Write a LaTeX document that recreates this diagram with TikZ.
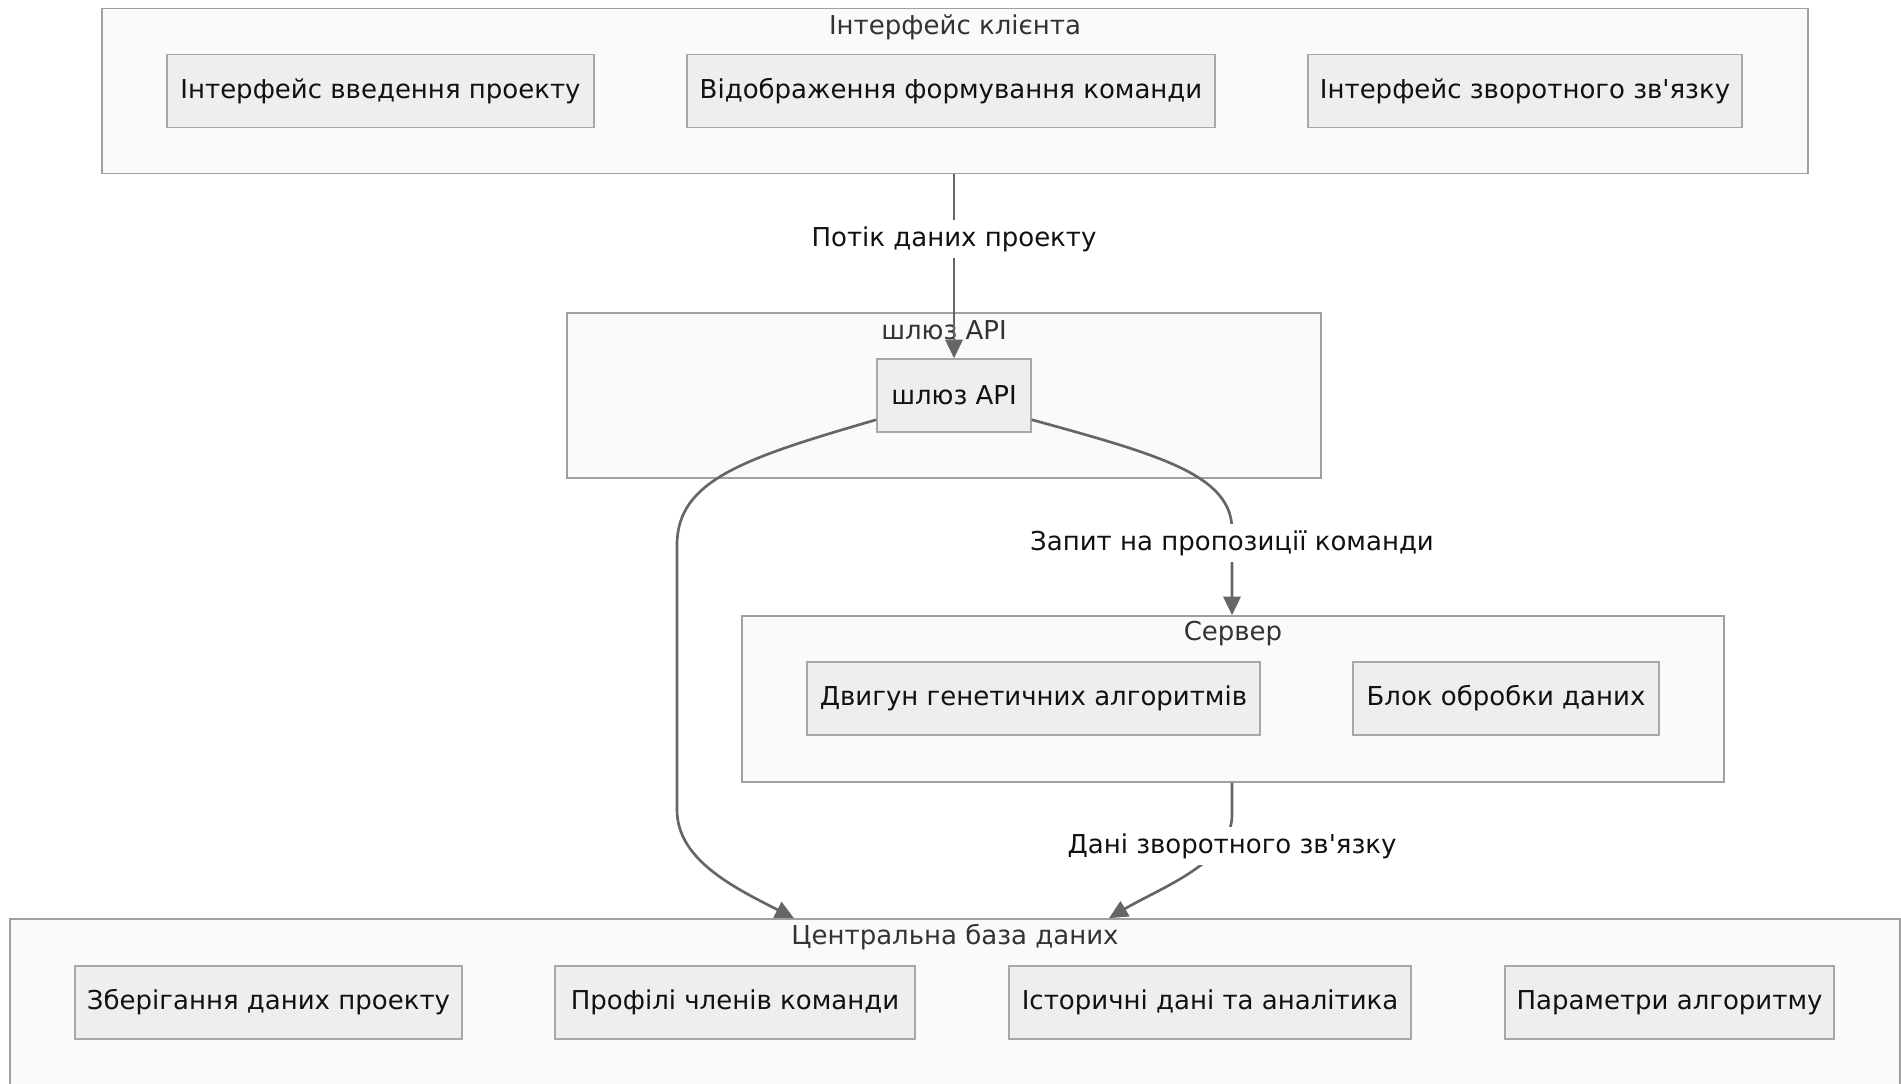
\documentclass[tikz,border=0pt]{standalone}
\usepackage{fontspec}
\newfontfamily\uifont{DejaVu Sans}
\usetikzlibrary{arrows.meta}
\definecolor{clfill}{HTML}{FAFAFA}
\definecolor{cldraw}{HTML}{A0A0A0}
\definecolor{ndfill}{HTML}{EEEEEE}
\definecolor{nddraw}{HTML}{A8A8A8}
\definecolor{edgecol}{HTML}{666666}
\definecolor{txt}{HTML}{111111}
\definecolor{ttl}{HTML}{333333}
\tikzset{
  cluster/.style={draw=cldraw, fill=clfill, line width=1.2pt, inner sep=0pt},
  cltitle/.style={text=ttl, font=\uifont\fontsize{19.5}{23}\selectfont, inner sep=0pt},
  nodebox/.style={draw=nddraw, fill=ndfill, line width=1.1pt, inner sep=0pt,
    minimum height=54.75pt, text=txt, font=\uifont\fontsize{19.5}{23}\selectfont},
  edge/.style={draw=edgecol, line width=2pt,
    -{Triangle[length=14pt,width=13pt]}},
  elabel/.style={fill=white, text=txt, inner xsep=2pt, inner ysep=5pt,
    font=\uifont\fontsize{19.5}{23}\selectfont}
}
\begin{document}
\begin{tikzpicture}[x=0.75pt,y=-0.75pt]
\useasboundingbox (0,0) rectangle (1901,1084);
\fill[white] (0,0) rectangle (1901,1084);

% clusters
\node[cluster, minimum width=1279.5pt, minimum height=123.7pt] (client) at (955,91) {};
\node[cluster, minimum width=565.5pt, minimum height=123.75pt] (gwc) at (944,395.5) {};
\node[cluster, minimum width=736.5pt, minimum height=124.5pt] (srv) at (1233,699) {};
\node[cluster, minimum width=1417.5pt, minimum height=150pt] (db) at (955,1019) {};

% cluster titles
\node[cltitle] (clientT) at (955,27) {Інтерфейс клієнта};
\node[cltitle] (gwcT) at (944,330) {шлюз API};
\node[cltitle] (srvT) at (1233,634) {Сервер};
\node[cltitle] (dbT) at (955,937) {Центральна база даних};

% client nodes
\node[nodebox, minimum width=320.25pt] (inp) at (380.5,91) {Інтерфейс введення проекту};
\node[nodebox, minimum width=396pt] (team) at (951,91) {Відображення формування команди};
\node[nodebox, minimum width=325.5pt] (fb) at (1525,91) {Інтерфейс зворотного зв'язку};

% gateway node
\node[nodebox, minimum width=115.5pt] (gw) at (954,395.5) {шлюз API};

% server nodes
\node[nodebox, minimum width=339.75pt] (ga) at (1033.5,698.5) {Двигун генетичних алгоритмів};
\node[nodebox, minimum width=229.5pt] (proc) at (1506,698.5) {Блок обробки даних};

% database nodes
\node[nodebox, minimum width=290.25pt] (store) at (268.5,1002.5) {Зберігання даних проекту};
\node[nodebox, minimum width=270pt] (prof) at (735,1002.5) {Профілі членів команди};
\node[nodebox, minimum width=301.5pt] (hist) at (1210,1002.5) {Історичні дані та аналітика};
\node[nodebox, minimum width=246.75pt] (par) at (1669.5,1002.5) {Параметри алгоритму};

% connectors
\draw[edge] (gw.north |- client.south) -- (gw.north);
\draw[edge] ([yshift=9.75pt]gw.south west)
  .. controls (745,458) and (677,480) .. (677,545)
  -- (677,810)
  .. controls (677,860) and (735,888) .. (794,0 |- db.north);
\draw[edge] ([yshift=9.75pt]gw.south east)
  .. controls (1160,455) and (1232,475) .. (1232,530)
  -- (1232,0 |- srv.north);
\draw[edge] (1232,0 |- srv.south) -- (1232,815)
  .. controls (1232,862) and (1160,888) .. (1109,0 |- db.north);

% connector labels
\node[elabel] (l1) at (954,239) {Потік даних проекту};
\node[elabel] (l2) at (1232,543) {Запит на пропозиції команди};
\node[elabel] (l3) at (1232,846) {Дані зворотного зв'язку};
\end{tikzpicture}
\end{document}
